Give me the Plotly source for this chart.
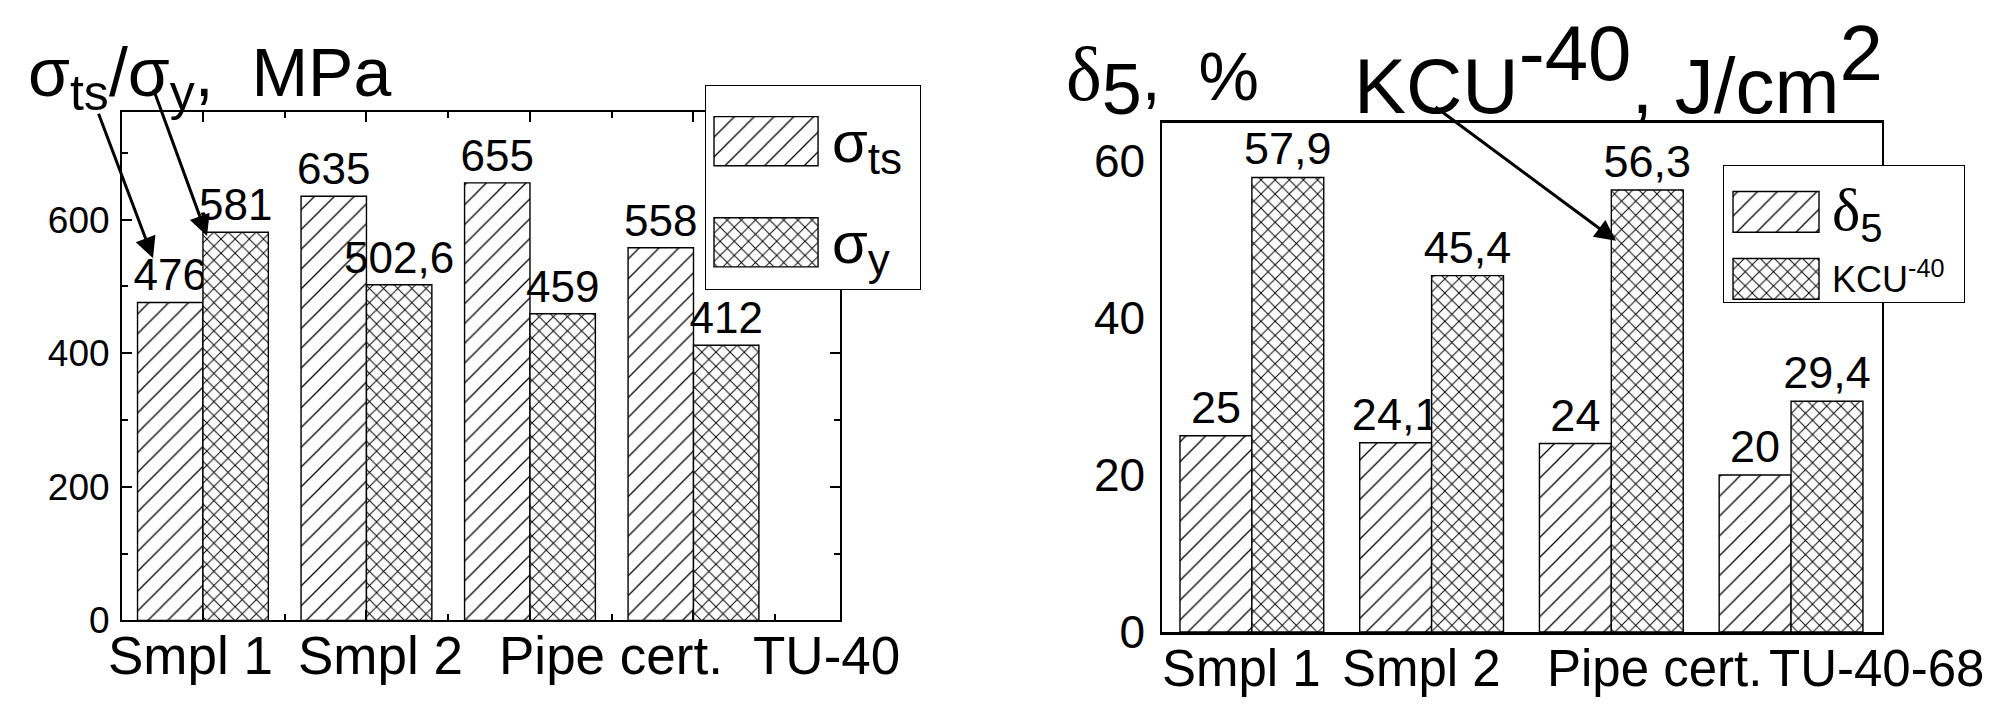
import plotly.graph_objects as go

# ---------------- data ----------------
categories_left = ["Smpl 1", "Smpl 2", "Pipe cert.", "TU-40"]
sigma_ts = [476, 635, 655, 558]
sigma_y = [581, 502.6, 459, 412]

categories_right = ["Smpl 1", "Smpl 2", "Pipe cert.", "TU-40-68"]
delta5 = [25, 24.1, 24, 20]
kcu40 = [57.9, 45.4, 56.3, 29.4]

left_yticks = [0, 200, 400, 600]
right_yticks = [0, 20, 40, 60]

# ---------------- layout helpers ----------------
W, H = 1989, 709
FONT = "Liberation Sans, Arial, sans-serif"
NB = "\u00a0"


def px(x):
    return x / W


def py(y):
    return 1 - y / H


def fmt(v):
    return ("%g" % v).replace(".", ",")


idx_left = list(range(len(categories_left)))
idx_right = list(range(len(categories_right)))

hatch = dict(shape="/", size=14, solidity=0.09, fgcolor="black", bgcolor="white", fillmode="replace")
cross = dict(shape="x", size=10, solidity=0.18, fgcolor="black", bgcolor="white", fillmode="replace")
outline = dict(color="black", width=1.4)

fig = go.Figure()

# left chart
fig.add_trace(go.Bar(x=idx_left, y=sigma_ts, text=[fmt(v) for v in sigma_ts],
                     marker=dict(color="white", pattern=hatch, line=outline),
                     textposition="outside", cliponaxis=False, constraintext="none",
                     textfont=dict(size=44, color="black", family=FONT),
                     xaxis="x", yaxis="y", offsetgroup="a", showlegend=False))
fig.add_trace(go.Bar(x=idx_left, y=sigma_y, text=[fmt(v) for v in sigma_y],
                     marker=dict(color="white", pattern=cross, line=outline),
                     textposition="outside", cliponaxis=False, constraintext="none",
                     textfont=dict(size=44, color="black", family=FONT),
                     xaxis="x", yaxis="y", offsetgroup="b", showlegend=False))
# right chart
fig.add_trace(go.Bar(x=idx_right, y=delta5, text=[fmt(v) for v in delta5],
                     marker=dict(color="white", pattern=hatch, line=outline),
                     textposition="outside", cliponaxis=False, constraintext="none",
                     textfont=dict(size=45, color="black", family=FONT),
                     xaxis="x2", yaxis="y2", offsetgroup="a", showlegend=False))
fig.add_trace(go.Bar(x=idx_right, y=kcu40, text=[fmt(v) for v in kcu40],
                     marker=dict(color="white", pattern=cross, line=outline),
                     textposition="outside", cliponaxis=False, constraintext="none",
                     textfont=dict(size=45, color="black", family=FONT),
                     xaxis="x2", yaxis="y2", offsetgroup="b", showlegend=False))

# legend swatches (drawn in their own small subplots)
for xa, ya, w in (("x3", "y3", 0.486), ("x4", "y4", 0.61)):
    fig.add_trace(go.Bar(y=[0, 1], x=[1, 1], base=0, orientation="h", width=w,
                         marker=dict(color="white", line=outline,
                                     pattern=dict(shape=["x", "/"], size=[10, 14], solidity=[0.18, 0.09],
                                                  fgcolor="black", bgcolor="white", fillmode="replace")),
                         xaxis=xa, yaxis=ya, showlegend=False, hoverinfo="skip"))

base_ax = dict(showgrid=False, zeroline=False, showline=True, linecolor="black")

fig.update_layout(
    width=W, height=H, margin=dict(l=0, r=0, t=0, b=0),
    paper_bgcolor="white", plot_bgcolor="white",
    barmode="group", bargap=0.2, bargroupgap=0,
    font=dict(family=FONT, color="black"),
    showlegend=False,
    xaxis=dict(domain=[px(122), px(840)], range=[-0.495, 3.896], linewidth=2, mirror="ticks",
               tickvals=idx_left, showticklabels=False, ticks="inside", ticklen=10, tickwidth=2,
               tickcolor="black",
               minor=dict(tickvals=[0.5, 1.5, 2.5, 3.5], ticks="inside", ticklen=6, tickwidth=2,
                          tickcolor="black"), **base_ax),
    yaxis=dict(domain=[py(644), py(116)], range=[0, 761.5], linewidth=2, mirror="ticks",
               tickvals=left_yticks, ticks="inside", ticklen=10, tickwidth=2, tickcolor="black",
               tickfont=dict(size=37), ticklabelstandoff=3,
               minor=dict(dtick=100, tick0=0, ticks="inside", ticklen=6, tickwidth=2, tickcolor="black"),
               **base_ax),
    xaxis2=dict(domain=[px(1162), px(1882)], range=[-0.5, 3.506], linewidth=2.5, mirror=True,
                showticklabels=False, ticks="", anchor="y2", **base_ax),
    yaxis2=dict(domain=[py(656), py(128)], range=[0, 64.8], linewidth=1.5, mirror=True,
                tickvals=right_yticks, ticks="", tickfont=dict(size=46), ticklabelstandoff=6,
                anchor="x2", **base_ax),
    xaxis3=dict(domain=[px(706), px(920)], range=[-0.077, 1.98], showticklabels=False,
                ticks="", anchor="y3", linewidth=1.2, mirror=True, **base_ax),
    yaxis3=dict(domain=[py(300), py(89)], range=[-0.462, 1.548], showticklabels=False,
                ticks="", anchor="x3", linewidth=1.2, mirror=True, **base_ax),
    xaxis4=dict(domain=[px(1724), px(1964)], range=[-0.105, 2.686], showticklabels=False,
                ticks="", anchor="y4", linewidth=1.2, mirror=True, **base_ax),
    yaxis4=dict(domain=[py(314), py(172)], range=[-0.353, 1.69], showticklabels=False,
                ticks="", anchor="x4", linewidth=1.2, mirror=True, **base_ax),
)

ann = []
# titles
ann.append(dict(text="σ<sub><span style='font-size:50px'>ts</span></sub>/σ<sub><span style='font-size:50px'>y</span></sub>," + NB + NB + "MPa",
                x=px(26), y=py(80), xanchor="left", yanchor="middle", font=dict(size=68)))
ann.append(dict(text="<span style='font-family:Liberation Serif;font-size:76px'>δ</span><sub><span style='font-size:72px'>5</span></sub>," + NB + NB + "%",
                x=px(1064), y=py(84), xanchor="left", yanchor="middle", font=dict(size=68)))
ann.append(dict(text="KCU<sup><span style='font-size:78px'>-40</span></sup>, J/cm<sup><span style='font-size:78px'>2</span></sup>",
                x=px(1352), y=py(72), xanchor="left", yanchor="middle", font=dict(size=78)))
# legend texts
ann.append(dict(text="σ<sub><span style='font-size:44px'>ts</span></sub>", x=px(830), y=py(152),
                xanchor="left", yanchor="middle", font=dict(size=58)))
ann.append(dict(text="σ<sub><span style='font-size:44px'>y</span></sub>", x=px(830), y=py(256),
                xanchor="left", yanchor="middle", font=dict(size=58)))
ann.append(dict(text="<span style='font-family:Liberation Serif;font-size:60px'>δ</span><sub><span style='font-size:40px'>5</span></sub>",
                x=px(1830), y=py(222), xanchor="left", yanchor="middle", font=dict(size=56)))
ann.append(dict(text="KCU<sup>-40</sup>", x=px(1830), y=py(288), xanchor="left", yanchor="middle",
                font=dict(size=36)))
# category labels under the axes
left_label_px = [106, 296, 497, 751]
right_label_px = [1160, 1340, 1545, 1767]
for name, xp in zip(categories_left, left_label_px):
    ann.append(dict(text=name, x=px(xp), y=py(648), xanchor="left", yanchor="top", font=dict(size=53)))
for name, xp in zip(categories_right, right_label_px):
    ann.append(dict(text=name, x=px(xp), y=py(662), xanchor="left", yanchor="top", font=dict(size=51)))

for a in ann:
    a.update(xref="paper", yref="paper", showarrow=False)

# arrows
arrows = [((153, 268), (98, 122)), ((207, 245), (153, 97)), ((1616, 250), (1434, 115))]
for (hx, hy), (tx, ty) in arrows:
    ann.append(dict(x=px(hx), y=py(hy), xref="paper", yref="paper", text="", showarrow=True,
                    ax=tx - hx, ay=ty - hy, arrowhead=2, arrowsize=1.4, arrowwidth=3,
                    arrowcolor="black", standoff=0))

fig.update_layout(annotations=ann)

clip_js = (
    "document.body.style.margin='0px';"
    "document.querySelectorAll('.svg-container').forEach(function(e){e.style.overflow='hidden';});"
)
fig.write_html("out.html", post_script=clip_js)
